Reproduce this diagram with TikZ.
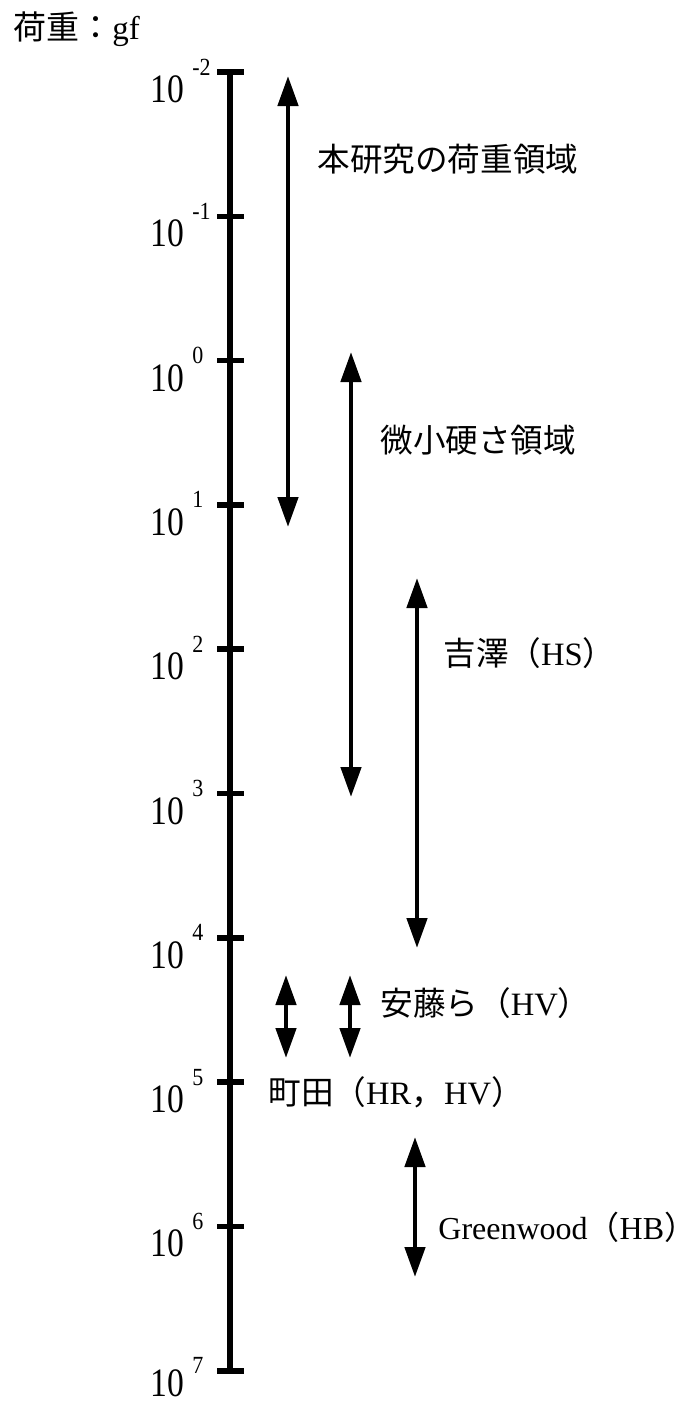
\documentclass[tikz,border=0pt]{standalone}
\usepackage{fontspec}
\setmainfont{Liberation Serif}
\newfontfamily\cjk{Noto Sans CJK JP}
\usetikzlibrary{arrows.meta}
\newcommand{\rpar}{\makebox[0.5em][l]{\cjk ）}}
\begin{document}
\begin{tikzpicture}[x=0.5pt,y=-0.5pt,
  axisline/.style={line width=2.6pt},
  tickmark/.style={line width=2.8pt},
  dbl/.style={line width=2.3pt,{Triangle[width=10pt,length=15pt]}-{Triangle[width=10pt,length=15pt]}},
  lab/.style={inner sep=0pt,anchor=west,font=\fontsize{16.3}{16.3}\selectfont},
  num/.style={inner sep=0pt,anchor=base west,font=\fontsize{16.8}{16.8}\selectfont},
  sup/.style={inner sep=0pt,anchor=base west,font=\fontsize{11}{11}\selectfont}]
\useasboundingbox (0,0) rectangle (695,1404);
% axis
\coordinate (axtop) at (230,72);
\coordinate (axbot) at (230,1371);
\draw[axisline] (axtop) -- (axbot);
\foreach \e [count=\k from 0] in {-2,-1,0,1,2,3,4,5,6,7} {
  \pgfmathsetmacro\yy{72+\k*144.3}
  \pgfmathsetmacro\nb{min(\yy+30.5,1396)}
  \pgfmathsetmacro\sb{min(\yy+3,1373)}
  \coordinate (tl\k) at (217,\yy);
  \coordinate (tr\k) at (244,\yy);
  \draw[tickmark] (tl\k) -- (tr\k);
  \node[num] (n\k) at (150,\nb) {\scalebox{1}[1.2]{10}};
  \node[sup] (s\k) at (192,\sb) {\scalebox{1}[1.12]{\e}};
}
% unit
\node[lab,font=\fontsize{16.5}{16.5}\selectfont] (unit) at (13,29) {{\cjk 荷重：}gf};
% ranges
\coordinate (a1t) at (288,76);  \coordinate (a1b) at (288,527);
\coordinate (a2t) at (351,352); \coordinate (a2b) at (351,797);
\coordinate (a3t) at (417,578); \coordinate (a3b) at (417,948);
\coordinate (a4t) at (286,975); \coordinate (a4b) at (286,1058);
\coordinate (a5t) at (350,975); \coordinate (a5b) at (350,1058);
\coordinate (a6t) at (415,1137); \coordinate (a6b) at (415,1277);
\draw[dbl] (a1t) -- (a1b);
\draw[dbl] (a2t) -- (a2b);
\draw[dbl] (a3t) -- (a3b);
\draw[dbl] (a4t) -- (a4b);
\draw[dbl] (a5t) -- (a5b);
\draw[dbl] (a6t) -- (a6b);
% labels
\node[lab] (l1) at (317,159) {\cjk 本研究の荷重領域};
\node[lab] (l2) at (380,440) {\cjk 微小硬さ領域};
\node[lab] (l3) at (443,653) {{\cjk 吉澤（}HS\rpar};
\node[lab] (l4) at (380,1003) {{\cjk 安藤ら（}HV\rpar};
\node[lab] (l5) at (268,1092) {{\cjk 町田（}HR{\cjk ，}HV\rpar};
\node[lab,font=\fontsize{16}{16}\selectfont] (l6) at (438,1227) {Greenwood{\cjk （}HB\rpar};
\end{tikzpicture}
\end{document}
